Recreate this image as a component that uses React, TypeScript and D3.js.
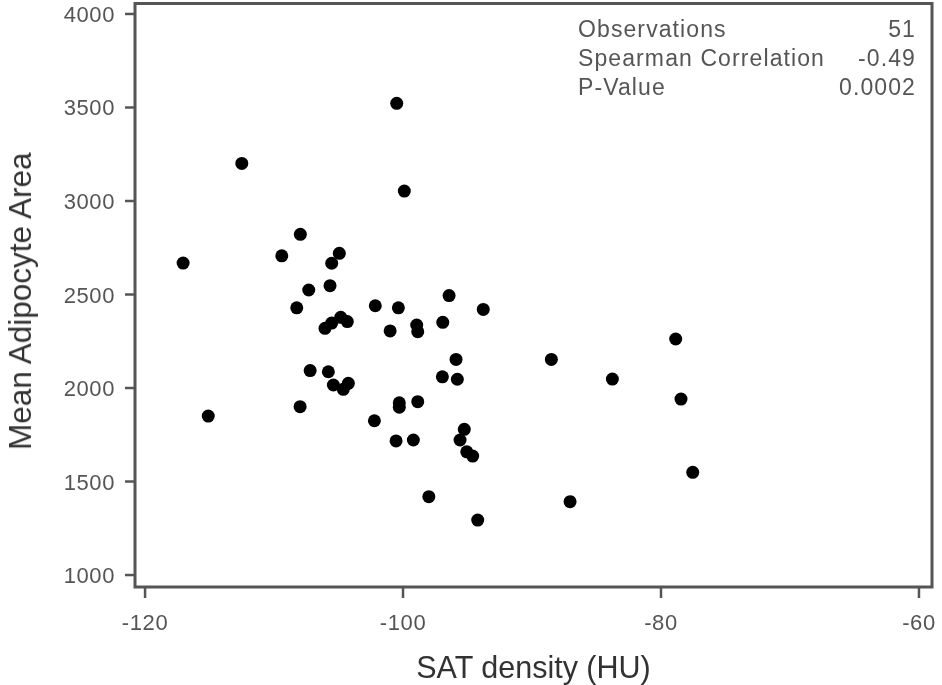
import React from "react";
import * as d3 from "d3";

const satDensity: number[] = [
  -117.05, -115.1, -112.5, -100.49, -99.9, -107.96, -109.4, -104.94, -105.53, -107.31,
  -105.66, -108.24, -102.15, -100.36, -96.43, -93.78, -106.05, -105.53, -104.83, -104.32,
  -101.0, -98.94, -98.86, -96.92, -95.89, -96.95, -95.79, -88.5, -107.2, -105.79,
  -105.4, -104.63, -104.24, -107.98, -100.29, -100.29, -98.86, -102.22, -100.54, -99.2,
  -95.25, -95.58, -95.06, -94.6, -98.0, -94.21, -78.86, -83.77, -78.45, -77.54,
  -87.05,
];
const adipocyteArea: number[] = [
  2668, 1850, 3201, 3522, 3053, 2822, 2707, 2720, 2667, 2524,
  2547, 2429, 2440, 2429, 2494, 2420, 2319, 2347, 2378, 2355,
  2305, 2337, 2301, 2351, 2153, 2060, 2047, 2153, 2093, 2087,
  2016, 1993, 2025, 1900, 1921, 1897, 1927, 1825, 1717, 1722,
  1779, 1722, 1659, 1636, 1419, 1294, 2262, 2048, 1941, 1549,
  1392,
];
const xTicks: number[] = [-120, -100, -80, -60];
const yTicks: number[] = [1000, 1500, 2000, 2500, 3000, 3500, 4000];
const statLabels: string[] = ["Observations", "Spearman Correlation", "P-Value"];
const statValues: string[] = ["51", "-0.49", "0.0002"];

const W = 942;
const H = 685;
const plotL = 135;
const plotR = 932;
const plotT = 3.5;
const plotB = 587;

export default function App() {
  const x = d3.scaleLinear().domain([-120.78, -58.99]).range([plotL, plotR]);
  const y = d3.scaleLinear().domain([936, 4056]).range([plotB, plotT]);
  const font = "'Liberation Sans', Arial, sans-serif";
  const axisColor = "#555";
  return (
    <svg
      width={W}
      height={H}
      style={{ position: "absolute", left: 0, top: 0, background: "#fff" }}
      fontFamily={font}
    >
      <defs>
        <filter id="soft" x="-5%" y="-5%" width="110%" height="110%">
          <feGaussianBlur stdDeviation="0.6" />
        </filter>
      </defs>
      <rect x={0} y={0} width={W} height={H} fill="#fff" />
      <g filter="url(#soft)">
        <rect
          x={plotL}
          y={plotT}
          width={plotR - plotL}
          height={plotB - plotT}
          fill="none"
          stroke={axisColor}
          strokeWidth={3}
        />
        {yTicks.map((t) => (
          <g key={"y" + t}>
            <line x1={plotL - 10} x2={plotL} y1={y(t)} y2={y(t)} stroke={axisColor} strokeWidth={2.5} />
            <text x={115} y={y(t) + 8} textAnchor="end" fontSize={22} letterSpacing={0.6} fill="#555">
              {t}
            </text>
          </g>
        ))}
        {xTicks.map((t) => (
          <g key={"x" + t}>
            <line x1={x(t)} x2={x(t)} y1={plotB} y2={plotB + 11} stroke={axisColor} strokeWidth={2.5} />
            <text x={x(t)} y={630} textAnchor="middle" fontSize={22} letterSpacing={0.6} fill="#555">
              {t}
            </text>
          </g>
        ))}
        <text x={(plotL + plotR) / 2} y={678} textAnchor="middle" fontSize={30.5} fill="#333">
          SAT density (HU)
        </text>
        <text
          transform={`translate(31, ${(plotT + plotB) / 2 + 6}) rotate(-90)`}
          textAnchor="middle"
          fontSize={31.5}
          fill="#333"
        >
          Mean Adipocyte Area
        </text>
        {statLabels.map((s, i) => (
          <g key={s}>
            <text x={578} y={37 + i * 29} fontSize={23} letterSpacing={1.1} fill="#555">
              {s}
            </text>
            <text x={916} y={37 + i * 29} fontSize={23} letterSpacing={1.1} fill="#555" textAnchor="end">
              {statValues[i]}
            </text>
          </g>
        ))}
        {satDensity.map((v, i) => (
          <circle key={i} cx={x(v)} cy={y(adipocyteArea[i])} r={6.5} fill="#000" />
        ))}
      </g>
    </svg>
  );
}
